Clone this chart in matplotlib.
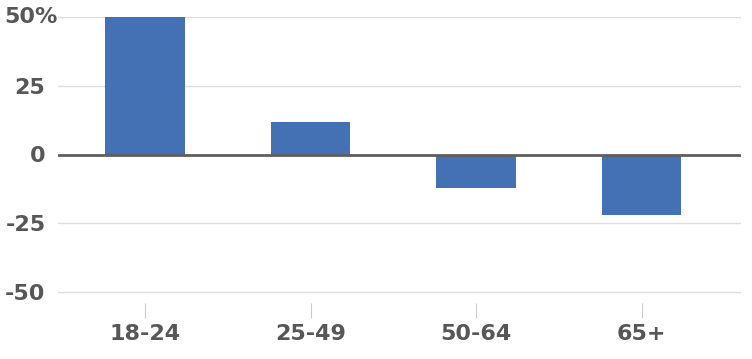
import numpy as np
import matplotlib
matplotlib.use("Agg")
import matplotlib.pyplot as plt
from matplotlib.transforms import blended_transform_factory

groups = ["18-24", "25-49", "50-64", "65+"]
change = [50, 12, -12, -22]
yticks = [50, 25, 0, -25, -50]
ylabels = ["", "25", "0", "-25", "-50"]  # top label drawn separately as "50%"

txt = "#575757"
plt.rcParams['font.family'] = ['DejaVu Sans']

fig = plt.figure(figsize=(7.52, 3.59), dpi=100)
W, H = 752, 359
ax = fig.add_axes([58 / W, 1 - 303 / H, (741 - 58) / W, (303 - 17) / H])

x = np.arange(len(groups))
ax.bar(x, change, width=0.48, color="#4371b4", zorder=3)

ax.set_xlim(-0.525, 3.6)
ax.set_ylim(-54, 50)

for v in yticks:
    if v == 0:
        ax.axhline(v, color="#5e5e5e", lw=2, zorder=4)
    else:
        ax.axhline(v, color="#dedede", lw=1, zorder=1)

ax.set_yticks(yticks)
ax.set_yticklabels(ylabels)
ax.set_xticks(x)
ax.set_xticklabels(groups)

ax.tick_params(axis="y", length=0, pad=9, labelsize=16, labelcolor=txt)
ax.tick_params(axis="x", length=11, width=0.8, color="#cccccc", pad=4,
               labelsize=16, labelcolor=txt)
for lab in ax.get_xticklabels() + ax.get_yticklabels():
    lab.set_fontweight("bold")

tr = blended_transform_factory(ax.transAxes, ax.transData)
ax.text(0.0, 50, "50%", transform=tr, ha="right", va="center",
        fontsize=16, fontweight="bold", color=txt)

for s in ax.spines.values():
    s.set_visible(False)

fig.savefig("out.png", dpi=100)
